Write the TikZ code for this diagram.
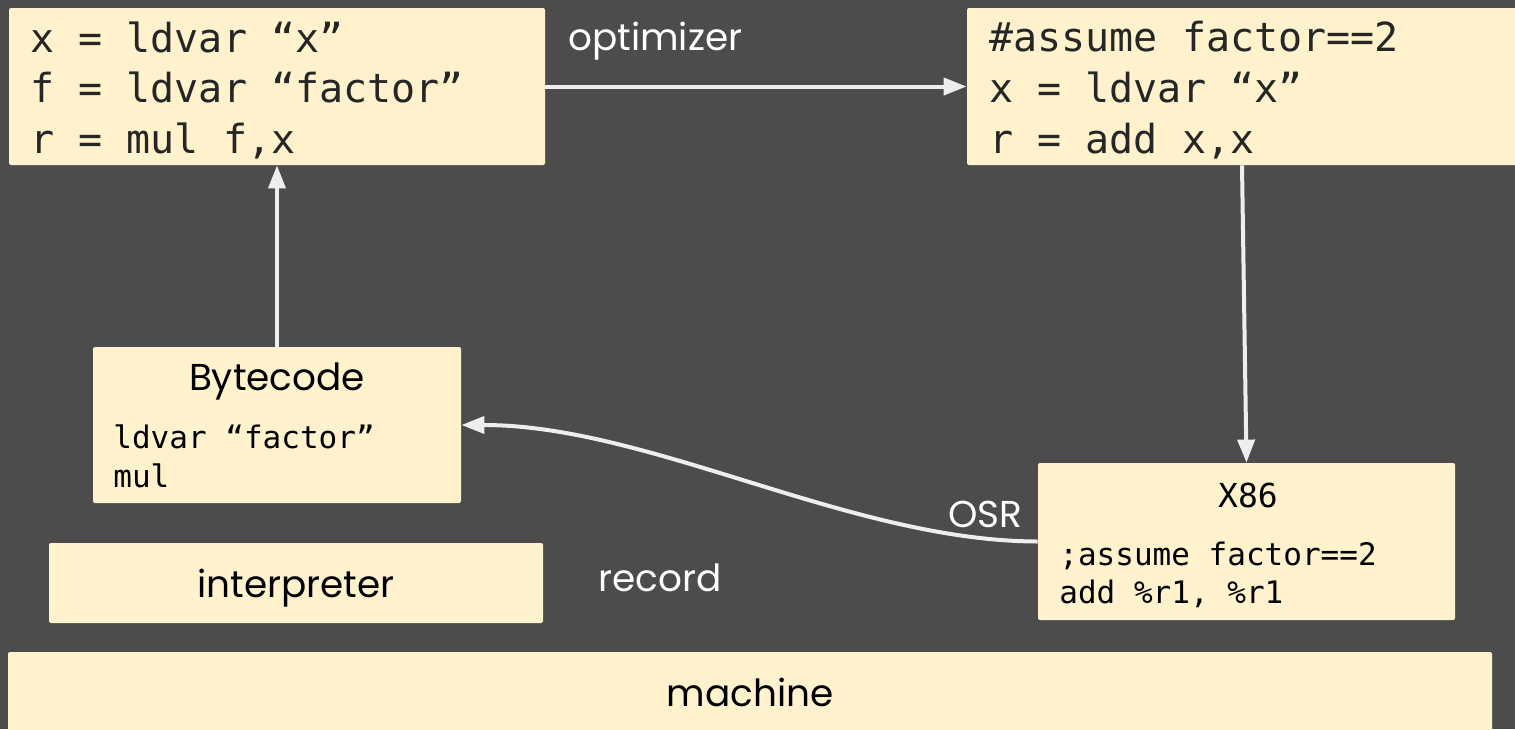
\documentclass[tikz,border=0pt]{standalone}
\usepackage{fontspec}
\setmainfont{Poppins}
\setmonofont{DejaVu Sans Mono}
\usetikzlibrary{arrows.meta}

\begin{document}
\begin{tikzpicture}[x=0.5pt, y=-0.5pt,
  box/.style={fill=boxcolor, rounded corners=1pt, inner sep=0pt},
  bigcode/.style={font=\ttfamily\fontsize{20}{24}\selectfont, anchor=base west, inner sep=0pt, text=black!85},
  smallcode/.style={font=\ttfamily\fontsize{15.5}{19}\selectfont, anchor=base west, inner sep=0pt, text=black},
  title/.style={font=\fontsize{18.7}{22}\selectfont, anchor=base, inner sep=0pt, text=black},
  label/.style={font=\fontsize{18.7}{22}\selectfont, anchor=base west, inner sep=0pt, text=white},
  flow/.style={-{Triangle[length=11.5pt, width=8.5pt]}, line width=2pt, draw=arrowcolor, fill=arrowcolor}]
  % Define colors
  \definecolor{bgcolor}{RGB}{76, 76, 76}
  \definecolor{boxcolor}{RGB}{255, 242, 204}
  \definecolor{arrowcolor}{RGB}{238, 238, 238}

  % Background
  \clip (0,0) rectangle (1515,729);
  \fill[bgcolor] (0,0) rectangle (1515,729);

  % Boxes
  \node[box, minimum width=268pt, minimum height=78.5pt] (ir) at (277,86.5) {};
  \node[box, minimum width=276pt, minimum height=78.5pt] (opt) at (1243,86.5) {};
  \node[box, minimum width=184pt, minimum height=78pt] (byte) at (277,425) {};
  \node[box, minimum width=208.5pt, minimum height=78.5pt] (x86) at (1246.5,541.5) {};
  \node[box, minimum width=247pt, minimum height=40pt] (interp) at (296,583) {};
  \node[box, minimum width=742pt, minimum height=46pt] (mach) at (750,698) {};

  % Code in the IR boxes
  \foreach \txt [count=\i] in {x = ldvar “x”, f = ldvar “factor”, {r = mul f,x}}
    \node[bigcode] (ir-\i) at (30,{52+50.5*(\i-1)}) {\txt};
  \foreach \txt [count=\i] in {\#assume factor==2, x = ldvar “x”, {r = add x,x}}
    \node[bigcode] (opt-\i) at (989,{51+51*(\i-1)}) {\txt};

  % Bytecode and X86
  \node[title] (byte-title) at (277,390) {Bytecode};
  \node[smallcode] (byte-1) at (113,448) {ldvar “factor”};
  \node[smallcode] (byte-2) at (113,487) {mul};
  \node[title, font=\ttfamily\fontsize{16.5}{20}\selectfont] (x86-title) at (1248,507) {X86};
  \node[smallcode] (x86-1) at (1059,565) {;assume factor==2};
  \node[smallcode] (x86-2) at (1059,603) {add \%r1, \%r1};

  % Interpreter and machine
  \node[title] (interp-text) at (296,597) {interpreter};
  \node[title] (mach-text) at (750,706) {machine};

  % Labels
  \node[label] (optimizer) at (568,50) {optimizer};
  \node[label] (record) at (598,591) {record};
  \node[label] (osr) at (948,527) {OSR};

  % Arrows
  \draw[flow] (byte.north) -- (ir.south);
  \draw[flow] (ir.east) -- (ir.east -| opt.west);
  \draw[flow] (opt.south -| 1242,0) -- (x86.north);
  \draw[flow, fill=none] (x86.west) .. controls (850,541) and (650,425) .. (byte.east);
\end{tikzpicture}
\end{document}
